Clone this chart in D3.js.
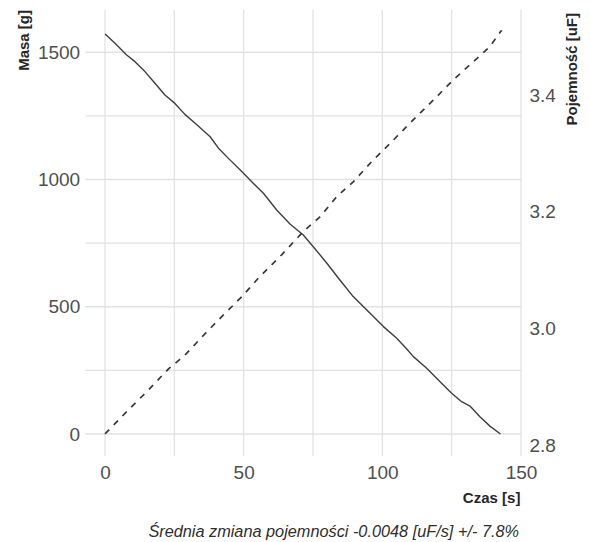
<!DOCTYPE html>
<html>
<head>
<meta charset="utf-8">
<script src="https://cdn.jsdelivr.net/npm/d3@7"></script>
<style>
  html, body { margin: 0; padding: 0; background: #fff; }
  svg { display: block; }
  .tick text { font-family: "Liberation Sans", Arial, sans-serif; font-size: 19px; fill: #4f4f4f; }
  .title { font-family: "Liberation Sans", Arial, sans-serif; font-size: 15px; font-weight: bold; fill: #262626; }
  .caption { font-family: "Liberation Sans", Arial, sans-serif; font-size: 16.3px; font-style: italic; fill: #2e2e2e; }
</style>
</head>
<body>
<svg id="chart" width="590" height="542"></svg>
<script>
// Mass over time [s] -> [g]
const massTime  = [0, 3.6, 7.8, 10.8, 14.4, 18, 21.6, 25.2, 28.8, 32.5, 37.9, 40.9, 44.5, 49.3, 52.9,
                   57.2, 61.9, 66.7, 71.5, 75.1, 80, 84.7, 89.5, 94.4, 100.4, 105.2, 108.8, 111.2,
                   116, 120.2, 124.8, 128.6, 131.6, 135.2, 138.8, 142.6];
const massValue = [1572, 1535, 1489, 1463, 1424, 1378, 1332, 1299, 1256, 1221, 1168, 1123, 1083, 1031, 991,
                   945, 880, 825, 782, 736, 671, 605, 540, 487, 422, 376, 334, 304,
                   258, 212, 162, 127, 110, 68, 31, 0];

// Capacitance over time [s] -> [uF]
const capTime  = [0, 8.4, 15.6, 22.8, 28.8, 36.1, 42.7, 49.3, 55.3, 63.7, 71.5, 77.5, 83.6, 89.5,
                  96.2, 102.8, 109.4, 113, 119.6, 125.6, 132.8, 138.8, 143];
const capValue = [2.819, 2.860, 2.894, 2.930, 2.954, 2.991, 3.023, 3.054, 3.086, 3.126, 3.166, 3.191, 3.226, 3.251,
                  3.286, 3.317, 3.349, 3.366, 3.397, 3.426, 3.457, 3.483, 3.511];

// Axis ticks and grid
const xTicks     = [0, 50, 100, 150];
const xGrid      = [0, 25, 50, 75, 100, 125, 150];
const massTicks  = [0, 500, 1000, 1500];
const massGrid   = [0, 250, 500, 750, 1000, 1250, 1500];
const capTicks   = [2.8, 3.0, 3.2, 3.4];

const xTitle    = "Czas [s]";
const massTitle = "Masa [g]";
const capTitle  = "Pojemność [uF]";
const caption   = "Średnia zmiana pojemności -0.0048 [uF/s] +/- 7.8%";

const panel = { left: 85.2, right: 521.4, top: 10, bottom: 456 };

const svg = d3.select("#chart");

const x = d3.scaleLinear().domain([-7.15, 150.15]).range([panel.left, panel.right]);
const yM = d3.scaleLinear().domain([-86.4, 1666]).range([panel.bottom, panel.top]);
const yC = d3.scaleLinear().domain([2.7811, 3.5457]).range([panel.bottom, panel.top]);

// grid
const grid = svg.append("g").attr("stroke", "#e2e2e2").attr("stroke-width", 1.3);
grid.selectAll("line.h").data(massGrid).join("line")
  .attr("x1", panel.left).attr("x2", panel.right)
  .attr("y1", d => yM(d)).attr("y2", d => yM(d));
grid.selectAll("line.v").data(xGrid).join("line")
  .attr("y1", panel.top).attr("y2", panel.bottom)
  .attr("x1", d => x(d)).attr("x2", d => x(d));

// axes (labels only)
const axL = svg.append("g").attr("transform", `translate(${panel.left},0)`)
  .call(d3.axisLeft(yM).tickValues(massTicks).tickFormat(d3.format("d")).tickSize(0).tickPadding(5));
const axB = svg.append("g").attr("transform", `translate(0,${panel.bottom})`)
  .call(d3.axisBottom(x).tickValues(xTicks).tickFormat(d3.format("d")).tickSize(0).tickPadding(9.5));
const axR = svg.append("g").attr("transform", `translate(${panel.right},0)`)
  .call(d3.axisRight(yC).tickValues(capTicks).tickFormat(d3.format(".1f")).tickSize(0).tickPadding(8));
[axL, axB, axR].forEach(a => a.select(".domain").remove());
svg.selectAll(".tick text").attr("font-family", null).attr("font-size", null).attr("fill", null);

// series
const massLine = d3.line().x((d, i) => x(massTime[i])).y(d => yM(d));
svg.append("path").datum(massValue)
  .attr("d", massLine)
  .attr("fill", "none").attr("stroke", "#3e3e3e").attr("stroke-width", 1.4)
  .attr("stroke-linejoin", "round");

const capLine = d3.line().x((d, i) => x(capTime[i])).y(d => yC(d));
svg.append("path").datum(capValue)
  .attr("d", capLine)
  .attr("fill", "none").attr("stroke", "#383838").attr("stroke-width", 1.7)
  .attr("stroke-dasharray", "6,6.5");

// titles
svg.append("text").attr("class", "title")
  .attr("x", panel.right - 1).attr("y", 503).attr("text-anchor", "end").text(xTitle);
svg.append("text").attr("class", "title")
  .attr("transform", "translate(28.5,10) rotate(-90)").attr("text-anchor", "end").text(massTitle);
svg.append("text").attr("class", "title")
  .attr("transform", "translate(577,13) rotate(-90)").attr("text-anchor", "end").text(capTitle);

svg.append("text").attr("class", "caption")
  .attr("x", 519).attr("y", 537).attr("text-anchor", "end").text(caption);
</script>
</body>
</html>
